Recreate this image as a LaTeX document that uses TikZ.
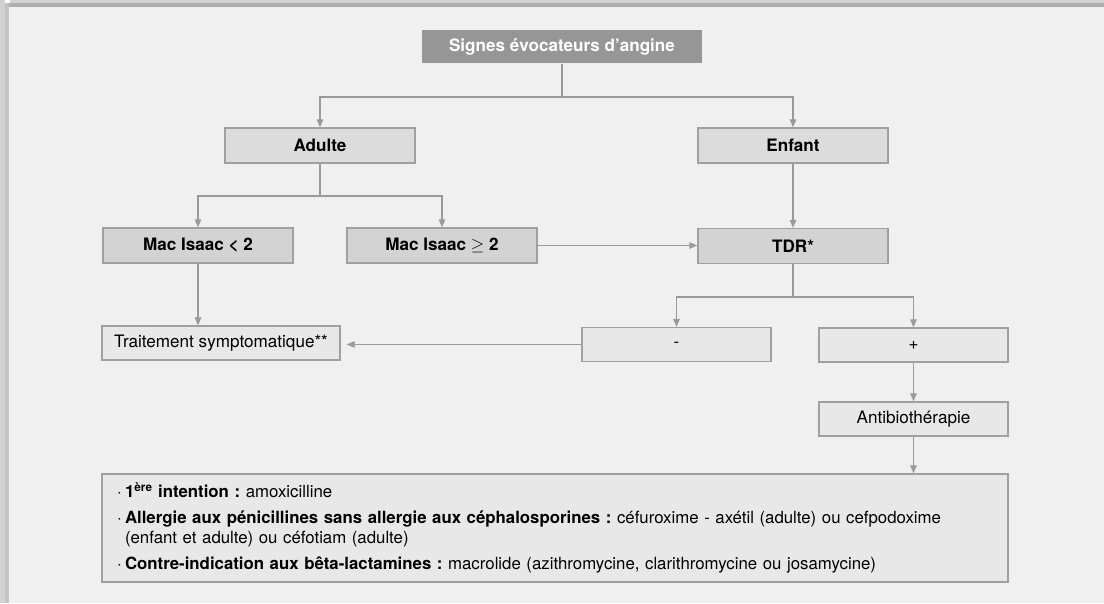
\documentclass[tikz,border=0pt]{standalone}
\usepackage{fontspec}
\setmainfont{TeX Gyre Heros}
\usetikzlibrary{arrows.meta}
\frenchspacing
\definecolor{bg}{HTML}{F0F0F0}
\definecolor{bandA}{HTML}{D2D2D2}
\definecolor{bandB}{HTML}{ADADAD}
\definecolor{bandC}{HTML}{C4C4C4}
\definecolor{topfill}{HTML}{969696}
\definecolor{midfill}{HTML}{DCDCDC}
\definecolor{darkfill}{HTML}{D3D3D3}
\definecolor{lightfill}{HTML}{E8E8E8}
\definecolor{edge}{HTML}{A0A0A0}
\definecolor{arr}{HTML}{9A9A9A}
\tikzset{
  base/.style={draw=edge, line width=1.3pt, inner sep=0pt, align=center,
    font=\fontsize{17.1}{20}\selectfont, text=black},
  topbox/.style={base, draw=none, fill=topfill, text=white, font=\fontsize{17.1}{20}\selectfont\bfseries,
    minimum width=280pt, minimum height=33pt},
  midbox/.style={base, fill=midfill, font=\fontsize{17.1}{20}\selectfont\bfseries,
    minimum width=190pt, minimum height=35pt},
  darkbox/.style={base, fill=darkfill, font=\fontsize{17.1}{20}\selectfont\bfseries,
    minimum width=190pt, minimum height=35pt},
  lightbox/.style={base, fill=lightfill, minimum width=189pt, minimum height=34pt},
  conn/.style={draw=arr, line width=1.2pt},
  arrw/.style={conn, -{Triangle[width=6.5pt,length=8pt]}},
}
\begin{document}
\begin{tikzpicture}[x=1pt,y=-1pt]
\useasboundingbox (0,0) rectangle (1104,603);
% frame
\fill[bg] (0,0) rectangle (1104,603);
\fill[bandA] (0,0) rectangle (1104,3.3);
\fill[bandB] (8,3.3) rectangle (1104,7);
\fill[bandA] (0,0) rectangle (5,603);
\fill[bandC] (5,3.3) rectangle (8.5,603);
\fill[white] (5,0) rectangle (9.5,3.3);

% nodes
\node[topbox] (sig) at (562,46.5) {Signes évocateurs d’angine};
\node[midbox] (adu) at (320,145.5) {Adulte};
\node[midbox] (enf) at (793,145.5) {Enfant};
\node[darkbox] (mac1) at (198,245.5) {Mac Isaac < 2};
\node[darkbox] (mac2) at (442,245.5) {Mac Isaac {\mdseries$\geq$} 2};
\node[darkbox] (tdr) at (793,246) {TDR*};
\node[lightbox, minimum width=238pt] (trt) at (221,343) {Traitement symptomatique**};
\node[lightbox] (neg) at (676.5,344.5) {-};
\node[lightbox] (pos) at (913.5,345) {+};
\node[lightbox] (ant) at (913.5,419) {Antibiothérapie};
\node[base, fill=lightfill, minimum width=906pt, minimum height=108pt,
      text width=876pt, inner xsep=15pt, align=left,
      font=\fontsize{16.8}{20}\selectfont] (ther) at (555,528) {%
\makebox[8pt][l]{·}\textbf{1\textsuperscript{ère} intention :} amoxicilline\\[6pt]
\makebox[8pt][l]{·}\textbf{Allergie aux pénicillines sans allergie aux céphalosporines :} céfuroxime - axétil (adulte) ou cefpodoxime\\
\hspace*{8pt}(enfant et adulte) ou céfotiam (adulte)\\[6pt]
\makebox[8pt][l]{·}\textbf{Contre-indication aux bêta-lactamines :} macrolide (azithromycine, clarithromycine ou josamycine)};

% connectors
\coordinate (s1) at (562,97);
\draw[conn] (sig.south) -- (s1);
\draw[arrw] (s1) -| (adu.north);
\draw[arrw] (s1) -| (enf.north);

\coordinate (a1) at (320,196);
\draw[conn] (adu.south) -- (a1);
\draw[arrw] (a1) -| (mac1.north);
\draw[arrw] (a1) -| (mac2.north);

\draw[arrw] (enf.south) -- (tdr.north);
\draw[arrw] (mac2.east) -- (mac2.east -| tdr.west);
\draw[arrw] (mac1.south) -- (mac1.south |- trt.north);

\coordinate (t1) at (793,297);
\draw[conn] (tdr.south) -- (t1);
\draw[arrw] (t1) -| (neg.north);
\draw[arrw] (t1) -| (pos.north);

\draw[arrw, shorten >=6pt] (neg.west) -- (neg.west -| trt.east);
\draw[arrw] (pos.south) -- (ant.north);
\draw[arrw] (ant.south) -- (ant.south |- ther.north);
\end{tikzpicture}
\end{document}
